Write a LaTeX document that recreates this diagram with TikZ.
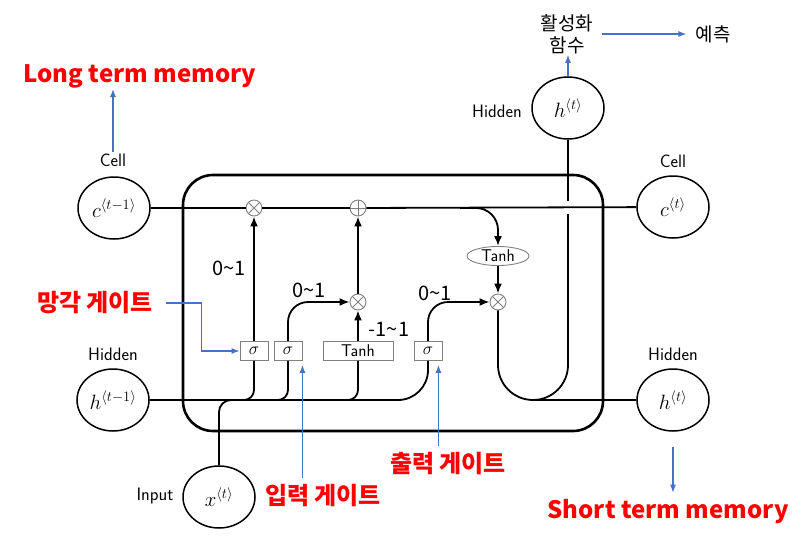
\documentclass[tikz,border=0pt]{standalone}
\usepackage{fontspec}
\newfontfamily\kr{Noto Sans CJK KR}
\usetikzlibrary{arrows.meta,shapes.geometric,calc}
\definecolor{bl}{HTML}{4472C4}
\definecolor{rd}{HTML}{FF0000}
\begin{document}
\begin{tikzpicture}[x=1pt,y=-1pt,
  circ/.style={draw,ellipse,line width=1.5,minimum width=72,minimum height=62,inner sep=0,font=\fontsize{21}{24}\selectfont},
  tlabel/.style={font=\sffamily\fontsize{18}{20}\selectfont,inner sep=1},
  op/.style={circle,draw=gray,line width=0.9,minimum size=16,inner sep=0,fill=white},
  mult/.style={op,path picture={\draw[line width=0.9] (path picture bounding box.north west)--(path picture bounding box.south east) (path picture bounding box.south west)--(path picture bounding box.north east);}},
  plus/.style={op,path picture={\draw[line width=0.9] (path picture bounding box.north)--(path picture bounding box.south) (path picture bounding box.west)--(path picture bounding box.east);}},
  gate/.style={draw=gray,line width=0.9,fill=white,minimum width=28,minimum height=19,inner sep=0,font=\fontsize{17}{18}\selectfont},
  ln/.style={line width=1.8},
  arr/.style={-{Latex[length=10,width=8]}},
  boxln/.style={line width=2.6,rounded corners=30},
  redlbl/.style={text=rd,font=\kr\bfseries\fontsize{24}{26}\selectfont,inner sep=1},
  krtxt/.style={font=\kr\fontsize{19}{22}\selectfont,inner sep=1,align=center},
  num/.style={font=\kr\fontsize{20}{22}\selectfont,inner sep=0},
  barr/.style={draw=bl,line width=1.1,-{Latex[length=8,width=6]}}
]
\useasboundingbox (0,0) rectangle (805,535);

% main box
\draw[boxln] (183,175) rectangle (603,431);

% circles
\node[circ] (cprev) at (114,208) {$c^{\langle t-1\rangle}$};
\node[circ] (hprev) at (113,400) {$h^{\langle t-1\rangle}$};
\node[circ] (xt) at (219,497) {$x^{\langle t\rangle}$};
\node[circ] (ct) at (673,207) {$c^{\langle t\rangle}$};
\node[circ] (ht) at (673,400) {$h^{\langle t\rangle}$};
\node[circ] (htop) at (568,108) {$h^{\langle t\rangle}$};

% labels
\node[tlabel] (cellL) at (113,160) {Cell};
\node[tlabel] (cellR) at (673,161) {Cell};
\node[tlabel] (hidL) at (113,354) {Hidden};
\node[tlabel] (hidR) at (673,354) {Hidden};
\node[tlabel] (hidT) at (497,111) {Hidden};
\node[tlabel] (inp) at (155,496) {Input};

% operators
\node[mult] (f) at (254,208) {};
\node[plus] (p) at (358,208) {};
\node[mult] (m) at (358,302) {};
\node[mult] (o) at (498,302) {};

% gates
\node[gate] (g1) at (254,351) {$\sigma$};
\node[gate] (g2) at (288,351) {$\sigma$};
\node[gate,minimum width=70,font=\sffamily\fontsize{17}{18}\selectfont] (gt) at (358,351) {Tanh};
\node[gate] (g3) at (428,351) {$\sigma$};
\node[ellipse,draw=gray,line width=0.9,minimum width=62,minimum height=19,inner sep=0,font=\sffamily\fontsize{17}{18}\selectfont] (tO) at (498,256) {Tanh};

% cell line
\draw[ln] (cprev) -- (f);
\draw[ln] (f) -- (p);
\draw[ln] (p) -- (ct);
\coordinate (br) at (460,208);
\draw[ln,arr,rounded corners=22] (br) -| (tO);
\draw[ln,arr] (tO) -- (o);

% gate outputs
\draw[ln,arr] (g1) -- (f);
\draw[ln,arr,rounded corners=20] (g2) |- (m);
\draw[ln,arr] (gt) -- (m);
\draw[ln,arr] (m) -- (p);
\draw[ln,arr,rounded corners=20] (g3) |- (o);

% hidden input lines
\draw[ln,rounded corners=30] (hprev) -| (g3);
\draw[ln,rounded corners=10] (hprev) -| (g1);
\draw[ln,rounded corners=10] (hprev) -| (g2);
\draw[ln,rounded corners=10] (hprev) -| (gt);
\draw[ln,rounded corners=12] (xt) |- (g1 |- hprev);

% output
\coordinate (gb) at (568,214);
\coordinate (gtp) at (568,201);
\draw[ln,rounded corners=35] (o) |- (ht);
\draw[ln,rounded corners=35] ($(o |- ht)+(35,0)$) -| (gb);
\draw[ln] (htop) -- (gtp);

% value labels
\node[num] (n1) at (229,268) {0\textasciitilde1};
\node[num] (n2) at (309,290) {0\textasciitilde1};
\node[num] (n3) at (435,293) {0\textasciitilde1};
\node[num] (n4) at (389,329) {-1\textasciitilde1};

% red labels
\node[redlbl] (ltm) at (140,76) {Long term memory};
\node[redlbl] (stm) at (668,512) {Short term memory};
\node[redlbl] (fg) at (95,303) {망각 게이트};
\node[redlbl] (ig) at (323,496) {입력 게이트};
\node[redlbl] (og) at (448,464) {출력 게이트};

% activation
\node[krtxt] (act) at (567,34) {활성화\\함수};
\node[krtxt] (pred) at (713,34) {예측};

% blue arrows
\draw[barr] (cellL) -- (cellL |- ltm.south);
\draw[barr] (htop) -- (htop |- act.south);
\draw[barr,shorten <=8,shorten >=8] (act) -- (pred);
\draw[barr,shorten >=6] ($(ht.south)+(0,15)$) -- (stm.north -| ht);
\draw[barr] ($(fg.east)+(12,0)$) -| ($(g1.west)+(-38,0)$) -- (g1.west);
\draw[barr] ($(ig.north -| g2.south east)+(0,-6)$) -- ($(g2.south east)+(0,4)$);
\draw[barr] ($(og.north -| g3.south east)+(-4,-6)$) -- ($(g3.south east)+(-4,4)$);
\end{tikzpicture}
\end{document}
